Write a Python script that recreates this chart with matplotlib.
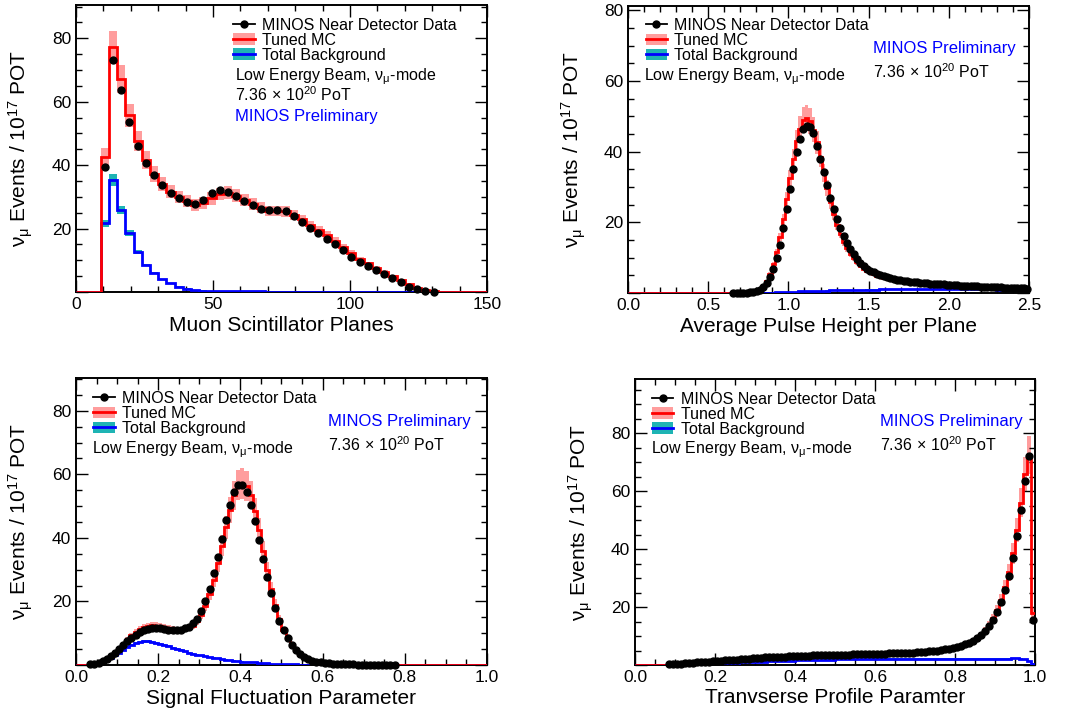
import matplotlib
matplotlib.use('Agg')
import matplotlib.pyplot as plt
import numpy as np
from matplotlib.lines import Line2D
from matplotlib.patches import Patch
from matplotlib.ticker import MultipleLocator, FuncFormatter

plt.rcParams['font.family'] = ['Liberation Sans', 'DejaVu Sans']
plt.rcParams['mathtext.fontset'] = 'custom'
plt.rcParams['mathtext.rm'] = 'Liberation Sans'
plt.rcParams['mathtext.it'] = 'Liberation Sans:italic'
plt.rcParams['mathtext.bf'] = 'Liberation Sans:bold'

# ---------------- panel 1 : muon scintillator planes (3-plane bins)
planes_edges = np.arange(0, 151, 3)
planes_mc = [0, 0, 0,
             42.7, 77.2, 67.1, 55.8, 47.6, 41.6, 37.2, 34.1, 31.6, 29.9,
             28.7, 27.4, 28.0, 29.5, 30.9, 31.3, 30.4, 29.0, 27.8, 26.5,
             25.5, 25.6, 25.4, 24.4, 22.9, 21.1, 19.6, 18.0, 16.2, 14.3,
             12.4, 10.5, 9.0, 7.7, 6.4, 5.0, 3.8, 2.5, 1.4, 0.6,
             0.2, 0, 0, 0, 0, 0, 0]
planes_bkg = [0, 0, 0,
              21.7, 35.3, 25.9, 18.5, 12.7, 8.5, 5.9, 4.0, 2.7, 1.7,
              1.05, 0.6, 0.45, 0.35, 0.3, 0.25, 0.22, 0.2, 0.18, 0.16,
              0.14, 0.12, 0.11, 0.1, 0.09, 0.08, 0.07, 0.06, 0.05, 0.05,
              0.04, 0.04, 0.03, 0.03, 0.02, 0.02, 0.02, 0.01, 0.01, 0.01,
              0, 0, 0, 0, 0, 0, 0]
planes_data = [39.5, 73.0, 63.7, 53.7, 46.1, 40.8, 36.8, 33.7, 31.3, 29.6,
               28.4, 27.9, 29.0, 31.1, 32.0, 31.6, 30.3, 28.7, 27.4, 26.3,
               26.0, 26.0, 25.4, 24.0, 22.2, 20.3, 18.5, 16.8, 15.0, 13.1,
               11.1, 9.5, 8.2, 6.8, 5.7, 4.4, 3.2, 1.7, 0.8, 0.2, 0.0]
planes_first_bin = 3

# ---------------- panel 2 : average pulse height per plane (120 bins, 0-2.5)
ph_edges = np.linspace(0, 2.5, 121)
ph_mc = [0] * 33 + [
    0.05, 0.1, 0.15, 0.25, 0.4, 0.7, 1.2, 2.1, 3.5, 5.5,
    8.2, 11.6, 15.9, 20.9, 26.6, 32.4, 38.0, 42.9, 46.5, 48.9,
    49.6, 48.6, 46.2, 42.6, 38.4, 34.0, 29.7, 25.8, 22.3, 19.3,
    16.7, 14.5, 12.6, 11.1, 9.8, 8.7, 7.7, 6.9, 6.3, 5.8,
    5.3, 4.9, 4.6, 4.3, 4.1, 3.9, 3.7, 3.5, 3.3, 3.2,
    3.1, 3.0, 2.9, 2.8, 2.7, 2.6, 2.5, 2.45, 2.4, 2.3,
    2.25, 2.2, 2.15, 2.1, 2.05, 2.0, 1.95, 1.9, 1.85, 1.8,
    1.75, 1.7, 1.68, 1.65, 1.6, 1.55, 1.52, 1.5, 1.45, 1.42,
    1.4, 1.37, 1.35, 1.3, 1.28, 1.25, 1.22]
ph_bkg = [0] * 38 + [
    0.02, 0.03, 0.05, 0.07, 0.1, 0.12, 0.15, 0.18, 0.22, 0.26,
    0.3, 0.34, 0.38, 0.42, 0.45, 0.49, 0.52, 0.56, 0.6, 0.63,
    0.66, 0.69, 0.72, 0.75, 0.78, 0.8, 0.82, 0.84, 0.86, 0.88,
    0.9, 0.91, 0.93, 0.94, 0.96, 0.97, 0.98, 0.99, 1.0, 1.01,
    1.02, 1.03, 1.04, 1.04, 1.05, 1.05, 1.06, 1.06, 1.07, 1.07,
    1.08, 1.08, 1.08, 1.08, 1.08, 1.08, 1.07, 1.07, 1.07, 1.06,
    1.06, 1.05, 1.05, 1.04, 1.04, 1.03, 1.03, 1.02, 1.01, 1.0,
    1.0, 0.99, 0.98, 0.97, 0.97, 0.96, 0.95, 0.94, 0.93, 0.93,
    0.92, 0.91]
ph_data = [0.05, 0.05, 0.05, 0.1, 0.1, 0.2, 0.3, 0.5, 0.9, 1.6,
           2.8, 4.5, 6.8, 9.8, 13.7, 18.3, 23.9, 29.5, 35.0, 39.8,
           43.7, 46.4, 47.3, 46.9, 45.2, 41.5, 37.8, 34.2, 30.5, 27.0,
           23.7, 20.9, 18.3, 16.0, 14.0, 12.5, 11.0, 9.7, 8.4, 7.5,
           6.8, 6.3, 5.9, 5.4, 5.1, 4.8, 4.5, 4.3, 4.0, 3.8,
           3.6, 3.5, 3.35, 3.2, 3.1, 3.0, 2.9, 2.8, 2.7, 2.65,
           2.6, 2.5, 2.45, 2.4, 2.35, 2.3, 2.2, 2.15, 2.1, 2.05,
           2.0, 1.95, 1.9, 1.85, 1.8, 1.75, 1.7, 1.65, 1.6, 1.58,
           1.55, 1.5, 1.45, 1.4, 1.38, 1.35, 1.3, 1.28, 1.25]
ph_first_bin = 31

# ---------------- panel 3 : signal fluctuation parameter (100 bins, 0-1)
sf_edges = np.linspace(0, 1, 101)
sf_mc = [0] * 3 + [
    0.1, 0.3, 0.6, 1.1, 1.9, 2.9, 4.0, 5.3, 6.7, 8.0,
    9.3, 10.4, 11.3, 11.9, 12.3, 12.5, 12.4, 12.2, 11.9, 11.6,
    11.3, 11.1, 11.0, 11.2, 11.6, 12.4, 13.8, 15.8, 18.6, 22.3,
    26.8, 32.0, 37.6, 43.3, 48.8, 53.4, 56.6, 57.0, 56.3, 53.5,
    48.5, 42.5, 36.0, 29.8, 24.0, 19.0, 14.6, 11.0, 8.2, 6.0,
    4.4, 3.2, 2.3, 1.7, 1.2, 0.9, 0.7, 0.5, 0.4, 0.3,
    0.25, 0.2, 0.15, 0.12, 0.1, 0.08, 0.06, 0.05, 0.04, 0.03,
    0.03, 0.02, 0.02, 0.01, 0.01] + [0] * 22
sf_bkg = [0] * 3 + [
    0.05, 0.2, 0.5, 0.9, 1.5, 2.2, 3.0, 3.9, 4.8, 5.6,
    6.3, 6.9, 7.2, 7.4, 7.4, 7.3, 7.0, 6.7, 6.3, 5.9,
    5.5, 5.1, 4.7, 4.3, 3.9, 3.6, 3.3, 3.0, 2.7, 2.5,
    2.3, 2.1, 1.9, 1.7, 1.5, 1.4, 1.3, 1.1, 1.0, 0.9,
    0.8, 0.7, 0.6, 0.5, 0.45, 0.4, 0.35, 0.3, 0.25, 0.2,
    0.2, 0.15, 0.15, 0.1, 0.1, 0.1, 0.05, 0.05, 0.05, 0.05] + [0] * 37
sf_data = [0.2, 0.4, 0.7, 1.2, 2.0, 2.9, 3.8, 5.0, 6.2, 7.4,
           8.6, 9.5, 10.3, 11.0, 11.4, 11.6, 11.6, 11.5, 11.3, 11.1,
           11.0, 11.0, 11.1, 11.5, 12.1, 13.1, 14.6, 17.0, 20.2, 24.0,
           28.8, 34.0, 39.8, 45.5, 50.5, 54.3, 56.5, 56.5, 54.3, 50.2,
           45.2, 39.3, 33.4, 27.6, 22.6, 17.8, 14.0, 11.0, 8.4, 6.4,
           4.8, 3.6, 2.6, 1.9, 1.4, 1.0, 0.8, 0.6, 0.5, 0.4,
           0.35, 0.3, 0.25, 0.2, 0.2, 0.15, 0.15, 0.1, 0.1, 0.1,
           0.1, 0.05, 0.05, 0.05, 0.05]
sf_first_bin = 3

# ---------------- panel 4 : transverse profile parameter (100 bins, 0-1)
tp_edges = np.linspace(0, 1, 101)
tp_mc = [0] * 8 + [
    0.25, 0.35, 0.45, 0.55, 0.65, 0.75, 0.85, 0.95, 1.05, 1.15,
    1.25, 1.35, 1.45, 1.55, 1.65, 1.75, 1.85, 1.95, 2.05, 2.15,
    2.25, 2.35, 2.45, 2.55, 2.65, 2.7, 2.8, 2.9, 2.95, 3.05,
    3.1, 3.15, 3.2, 3.25, 3.3, 3.35, 3.4, 3.45, 3.5, 3.55,
    3.6, 3.65, 3.7, 3.7, 3.75, 3.8, 3.85, 3.85, 3.9, 3.95,
    4.0, 4.05, 4.1, 4.1, 4.15, 4.15, 4.2, 4.25, 4.3, 4.4,
    4.45, 4.5, 4.6, 4.7, 4.8, 4.9, 5.05, 5.2, 5.4, 5.6,
    5.8, 6.1, 6.4, 6.8, 7.3, 7.9, 8.6, 9.5, 10.6, 12.1,
    13.9, 16.1, 19.0, 22.5, 26.8, 32.0, 38.5, 46.5, 56.0, 66.0,
    72.5, 18.0]
tp_bkg = [0] * 8 + [
    0.1, 0.12, 0.15, 0.18, 0.2, 0.25, 0.3, 0.35, 0.4, 0.45,
    0.5, 0.55, 0.6, 0.65, 0.7, 0.75, 0.8, 0.85, 0.9, 0.95,
    1.0, 1.05, 1.1, 1.15, 1.2, 1.25, 1.3, 1.35, 1.4, 1.45,
    1.5, 1.55, 1.6, 1.65, 1.7, 1.7, 1.75, 1.8, 1.8, 1.85,
    1.9, 1.9, 1.95, 2.0, 2.0, 2.0, 2.05, 2.05, 2.1, 2.1,
    2.1, 2.15, 2.15, 2.15, 2.2, 2.2, 2.2, 2.2, 2.2, 2.2,
    2.2, 2.2, 2.2, 2.2, 2.2, 2.2, 2.2, 2.2, 2.2, 2.2,
    2.2, 2.2, 2.2, 2.2, 2.2, 2.2, 2.2, 2.2, 2.2, 2.2,
    2.2, 2.2, 2.2, 2.2, 2.2, 2.2, 2.25, 2.25, 2.2, 2.1,
    1.4, 0.5]
tp_data = [0.2, 0.3, 0.4, 0.5, 0.6, 0.7, 0.8, 0.9, 1.0, 1.1,
           1.2, 1.3, 1.4, 1.5, 1.6, 1.7, 1.8, 1.9, 2.0, 2.1,
           2.2, 2.3, 2.4, 2.5, 2.6, 2.6, 2.7, 2.8, 2.8, 2.9,
           3.0, 3.0, 3.1, 3.1, 3.2, 3.2, 3.3, 3.3, 3.4, 3.4,
           3.5, 3.5, 3.5, 3.6, 3.6, 3.6, 3.7, 3.7, 3.7, 3.8,
           3.8, 3.8, 3.9, 3.9, 3.9, 4.0, 4.0, 4.1, 4.1, 4.2,
           4.3, 4.3, 4.4, 4.5, 4.6, 4.7, 4.9, 5.0, 5.2, 5.4,
           5.6, 5.9, 6.2, 6.6, 7.1, 7.7, 8.4, 9.3, 10.4, 11.8,
           13.5, 15.6, 18.3, 21.6, 25.8, 30.8, 37.0, 44.6, 53.6, 63.4,
           72.2, 15.7]
tp_first_bin = 8

# fractional systematic bands
mc_frac = [0.065, 0.075, 0.085, 0.09]
bkg_frac = [0.05, 0.05, 0.05, 0.05]

xlabels = ['Muon Scintillator Planes', 'Average Pulse Height per Plane',
           'Signal Fluctuation Parameter', 'Tranvserse Profile Paramter']
ylabel = 'ν$_\\mathrm{μ}$ Events / 10$^{17}$ POT'
beam_txt = 'Low Energy Beam, ν$_\\mathrm{μ}$-mode'
pot_txt = '7.36$\\,\\times\\,$10$^{20}$ PoT'
prelim_txt = 'MINOS Preliminary'
leg_labels = ['MINOS Near Detector Data', 'Tuned MC', 'Total Background']

PINK = '#ff9d9d'
TEAL = '#1eb4b4'

fig = plt.figure(figsize=(10.67, 7.13), dpi=100)
axes = [fig.add_axes([0.0712, 0.5905, 0.3852, 0.4025]),
        fig.add_axes([0.5886, 0.5891, 0.3758, 0.4025]),
        fig.add_axes([0.0712, 0.0673, 0.3852, 0.4025]),
        fig.add_axes([0.5951, 0.0673, 0.3749, 0.4011])]

panels = [
    (planes_edges, planes_mc, planes_bkg, planes_data, planes_first_bin),
    (ph_edges, ph_mc, ph_bkg, ph_data, ph_first_bin),
    (sf_edges, sf_mc, sf_bkg, sf_data, sf_first_bin),
    (tp_edges, tp_mc, tp_bkg, tp_data, tp_first_bin),
]
xlims = [(0, 150), (0, 2.5), (0, 1), (0, 1)]
ylims = [(0, 90.5), (0, 81.2), (0, 90.3), (0, 98.7)]
xmajor = [50, 0.5, 0.2, 0.2]
xminor = [10, 0.1, 0.05, 0.05]
xfmt = ['%d', '%.1f', '%.1f', '%.1f']
# legend anchor, text anchors (x, baseline y) in axes fraction
leg_pos = [(0.382, 0.955), (0.044, 0.958), (0.042, 0.955), (0.042, 0.956)]
beam_pos = [(0.387, 0.739), (0.041, 0.742), (0.038, 0.738), (0.039, 0.740)]
pot_pos = [(0.387, 0.664), (0.612, 0.750), (0.612, 0.746), (0.6125, 0.748)]
prelim_pos = [(0.387, 0.597), (0.612, 0.835), (0.612, 0.833), (0.6125, 0.836)]

for i, ax in enumerate(axes):
    edges, mc, bkg, data, first = panels[i]
    mc = np.asarray(mc, float)
    bkg = np.asarray(bkg, float)
    centers = 0.5 * (edges[:-1] + edges[1:])
    data_x = centers[first:first + len(data)]

    # error bands
    ax.stairs(mc * (1 + mc_frac[i]), edges, baseline=mc * (1 - mc_frac[i]),
              fill=True, color=PINK, lw=0, zorder=1)
    ax.stairs(bkg * (1 + bkg_frac[i]), edges, baseline=bkg * (1 - bkg_frac[i]),
              fill=True, color=TEAL, lw=0, zorder=2)
    ax.stairs(bkg, edges, baseline=None, color='#0000ff', lw=2, zorder=3)
    ax.stairs(mc, edges, baseline=None, color='#ff0000', lw=2, zorder=4)
    ax.plot(data_x, data, 'o', color='black', ms=5, zorder=5, clip_on=False)

    ax.set_xlim(*xlims[i])
    ax.set_ylim(*ylims[i])
    ax.xaxis.set_major_locator(MultipleLocator(xmajor[i]))
    ax.xaxis.set_minor_locator(MultipleLocator(xminor[i]))
    ax.xaxis.set_major_formatter(plt.FormatStrFormatter(xfmt[i]))
    ax.yaxis.set_major_locator(MultipleLocator(20))
    ax.yaxis.set_minor_locator(MultipleLocator(5))
    ax.yaxis.set_major_formatter(FuncFormatter(lambda v, p: '' if v == 0 else '%d' % v))
    ax.tick_params(which='both', direction='in', top=True, right=True,
                   labelsize=12.5, width=1.0, pad=3.5)
    ax.tick_params(which='major', length=8.6)
    ax.tick_params(which='minor', length=4.3)
    for s in ax.spines.values():
        s.set_linewidth(1.4)

    ax.set_xlabel(xlabels[i], fontsize=15)
    ax.set_ylabel(ylabel, fontsize=15)
    ax.xaxis.set_label_coords(0.5, -0.082)
    ax.yaxis.set_label_coords(-0.10, 0.5)

    handles = [Line2D([], [], color='black', marker='o', ms=5, lw=1.3),
               (Patch(facecolor=PINK, lw=0), Line2D([], [], color='#ff0000', lw=2)),
               (Patch(facecolor=TEAL, lw=0), Line2D([], [], color='#0000ff', lw=2))]
    ax.legend(handles, leg_labels, loc='upper left', bbox_to_anchor=leg_pos[i],
              frameon=False, fontsize=11.5, handlelength=1.35, handleheight=0.75,
              handletextpad=0.45, labelspacing=0.0, borderpad=0, borderaxespad=0)

    ax.text(*beam_pos[i], beam_txt, transform=ax.transAxes, fontsize=11.5,
            ha='left', va='baseline')
    ax.text(*pot_pos[i], pot_txt, transform=ax.transAxes, fontsize=11.5,
            ha='left', va='baseline')
    ax.text(*prelim_pos[i], prelim_txt, transform=ax.transAxes, fontsize=12,
            ha='left', va='baseline', color='#0000ff')

fig.savefig('out.png', dpi=100, facecolor='white')
